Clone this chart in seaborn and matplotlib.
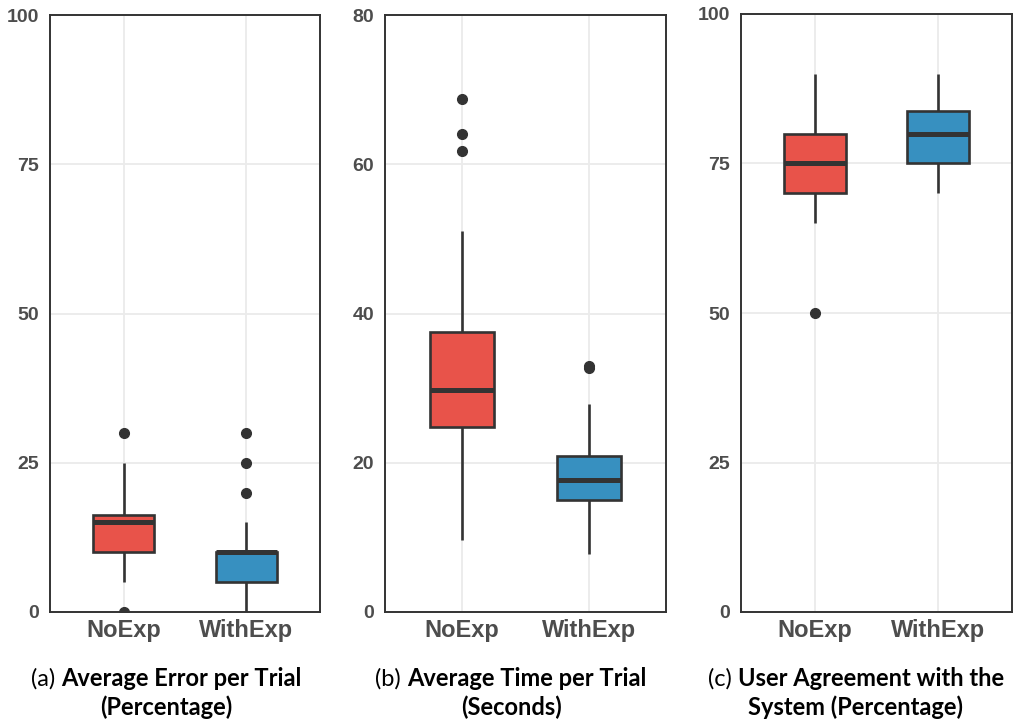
import pandas as pd
import matplotlib
matplotlib.use('Agg')
import matplotlib.pyplot as plt
import seaborn as sns

groups = ['NoExp', 'WithExp']
box_colors = ['#e8534a', '#3790c0']

# (a) average error per trial, in percent
error_noexp = [0, 5, 5, 10, 10, 10, 10, 10, 15, 15, 15, 15, 15, 15, 15, 20, 20, 20, 25, 30]
error_withexp = [0, 0, 5, 5, 5, 5, 5, 10, 10, 10, 10, 10, 10, 10, 10, 10, 15, 20, 25, 30]

# (b) average time per trial, in seconds
time_noexp = [9.7, 14.2, 18.5, 22.1, 24.8, 24.8, 26.3, 27.5, 28.9, 29.8,
              29.8, 31.2, 33.0, 35.4, 37.5, 37.5, 51.0, 61.8, 64.0, 68.8]
time_withexp = [7.8, 11.0, 13.2, 14.5, 15.0, 15.0, 16.1, 16.8, 17.3, 17.7,
                17.7, 18.4, 19.2, 20.1, 20.9, 20.9, 23.5, 27.9, 32.7, 32.9]

# (c) user agreement with the system, in percent
agree_noexp = [50, 65, 65, 70, 70, 70, 70, 70, 75, 75, 75, 75, 75, 80, 80, 80, 80, 85, 85, 90]
agree_withexp = [70, 70, 75, 75, 75, 75, 75, 75, 75, 80, 80, 80, 80, 80, 80, 80,
                 85, 85, 85, 90, 90, 90]

panel_data = [(error_noexp, error_withexp), (time_noexp, time_withexp), (agree_noexp, agree_withexp)]
panel_yticks = [[0, 25, 50, 75, 100], [0, 20, 40, 60, 80], [0, 25, 50, 75, 100]]
panel_tags = ['(a)', '(b)', '(c)']
panel_line1 = ['Average Error per Trial', 'Average Time per Trial', 'User Agreement with the']
panel_line2 = ['(Percentage)', '(Seconds)', 'System (Percentage)']

sns.set_theme(style='white')
plt.rcParams['font.family'] = ['Liberation Sans', 'DejaVu Sans']

W, H = 1016, 723
fig = plt.figure(figsize=(W / 100, H / 100), dpi=100)

# axes boxes in pixels: left, right, top, bottom
boxes = [(50, 320, 15, 612), (385, 666, 15, 612), (741, 1012, 14, 612)]
caption_x = [166, 511, 856]
cap_font = ['Lato', 'DejaVu Sans']

for i, (l, r, t, b) in enumerate(boxes):
    ax = fig.add_axes([l / W, 1 - b / H, (r - l) / W, (b - t) / H])
    a, w = panel_data[i]
    df = pd.DataFrame({'group': [groups[0]] * len(a) + [groups[1]] * len(w),
                       'value': a + w})
    sns.boxplot(data=df, x='group', y='value', hue='group', palette=box_colors,
                legend=False, width=0.5, saturation=1, linewidth=1.9,
                linecolor='#333333', showcaps=False,
                medianprops=dict(linewidth=3.6, color='#333333'),
                flierprops=dict(marker='o', markerfacecolor='#333333',
                                markeredgecolor='#333333', markersize=7),
                ax=ax)
    ax.set_axisbelow(True)
    ax.grid(True, axis='both', color='#ebebeb', linewidth=1.3)
    ax.set_xlim(-0.6, 1.6)
    ax.set_ylim(panel_yticks[i][0], panel_yticks[i][-1])
    ax.set_yticks(panel_yticks[i])
    ax.set_xlabel('')
    ax.set_ylabel('')
    ax.tick_params(length=0)
    ax.tick_params(axis='y', pad=8)
    ax.tick_params(axis='x', pad=5)
    for lab in ax.get_yticklabels():
        lab.set_fontsize(14)
        lab.set_fontweight('bold')
        lab.set_color('#4d4d4d')
    for lab in ax.get_xticklabels():
        lab.set_fontsize(17)
        lab.set_fontweight('bold')
        lab.set_color('#4d4d4d')
    for sp in ax.spines.values():
        sp.set_visible(True)
        sp.set_color('#333333')
        sp.set_linewidth(1.4)

# captions below each panel: regular tag + bold title
renderer = fig.canvas.get_renderer()
for i in range(3):
    xc = caption_x[i] / W
    y1 = 1 - 679 / H
    y2 = 1 - 707 / H
    t_tag = fig.text(0, y1, panel_tags[i], ha='left', va='center', fontsize=17,
                     family=cap_font, color='black')
    t_bold = fig.text(0, y1, panel_line1[i], ha='left', va='center', fontsize=17,
                      fontweight='bold', family=cap_font, color='black')
    w_tag = t_tag.get_window_extent(renderer).width / W
    w_bold = t_bold.get_window_extent(renderer).width / W
    gap = 6 / W
    x0 = xc - (w_tag + gap + w_bold) / 2
    t_tag.set_x(x0)
    t_bold.set_x(x0 + w_tag + gap)
    fig.text(xc, y2, panel_line2[i], ha='center', va='center', fontsize=17,
             fontweight='bold', family=cap_font, color='black')

fig.savefig('out.png', dpi=100)
